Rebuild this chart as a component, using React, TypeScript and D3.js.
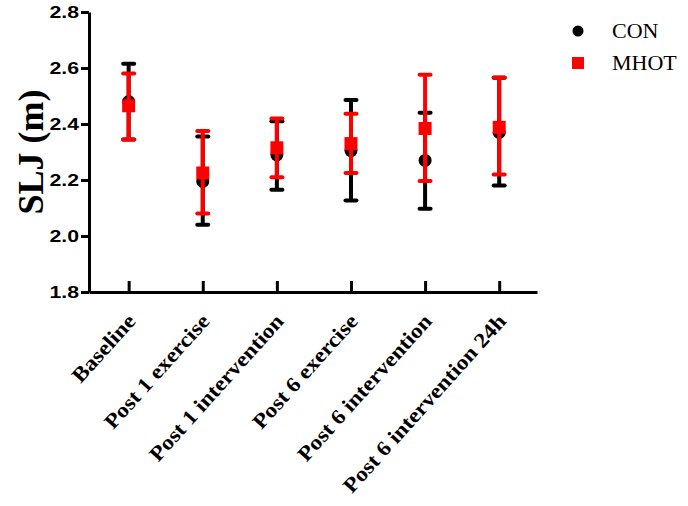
import React, { useEffect, useRef } from 'react';
import * as d3 from 'd3';

const categories = [
  'Baseline',
  'Post 1 exercise',
  'Post 1 intervention',
  'Post 6 exercise',
  'Post 6 intervention',
  'Post 6 intervention 24h',
];

// mean, lower, upper (SLJ in m)
const conMean = [2.48, 2.195, 2.29, 2.305, 2.27, 2.37];
const conLow = [2.345, 2.04, 2.165, 2.127, 2.097, 2.18];
const conHigh = [2.615, 2.355, 2.41, 2.486, 2.44, 2.565];

const mhotMean = [2.465, 2.225, 2.315, 2.33, 2.384, 2.388];
const mhotLow = [2.345, 2.08, 2.21, 2.225, 2.196, 2.22];
const mhotHigh = [2.58, 2.375, 2.42, 2.437, 2.576, 2.566];

const yTicks = [1.8, 2.0, 2.2, 2.4, 2.6, 2.8];

const App = () => {
  const svgRef = useRef<SVGSVGElement | null>(null);

  useEffect(() => {
    const svg = d3.select(svgRef.current);
    svg.selectAll('*').remove();

    const width = 688;
    const height = 506;

    const x = d3.scaleLinear().domain([-0.535, 5.51]).range([89, 537]);
    const y = d3.scaleLinear().domain([1.8, 2.8]).range([292, 12]);

    svg.attr('width', width).attr('height', height);

    // y axis
    const yAxis = d3.axisLeft(y)
      .tickValues(yTicks)
      .tickFormat(d3.format('.1f'))
      .tickSizeInner(8)
      .tickSizeOuter(0)
      .tickPadding(2);

    const yg = svg.append('g')
      .attr('transform', `translate(${x.range()[0]},0)`)
      .call(yAxis);
    yg.select('.domain').attr('stroke', '#000').attr('stroke-width', 3);
    yg.selectAll('.tick line').attr('stroke', '#000').attr('stroke-width', 3);
    yg.selectAll('.tick text')
      .attr('font-family', '"Liberation Sans", Arial, sans-serif')
      .attr('font-weight', 'bold')
      .attr('font-size', 17)
      .attr('fill', '#000')
      .attr('x', -10 / 1.25)
      .attr('transform', 'scale(1.25,1)');

    // x axis
    const xAxis = d3.axisBottom(x)
      .tickValues(d3.range(categories.length))
      .tickFormat(() => '')
      .tickSizeInner(-11)
      .tickSizeOuter(0);

    const xg = svg.append('g')
      .attr('transform', `translate(0,${y(1.8)})`)
      .call(xAxis);
    xg.select('.domain').attr('stroke', '#000').attr('stroke-width', 3);
    xg.selectAll('.tick line').attr('stroke', '#000').attr('stroke-width', 3);

    // x labels
    svg.append('g')
      .selectAll('text')
      .data(categories)
      .join('text')
      .attr('transform', (d, i) => `translate(${x(i) + 8},${y(1.8) + 30}) rotate(-48) scale(1.12,1)`)
      .attr('text-anchor', 'end')
      .attr('font-family', '"Liberation Serif", "Times New Roman", serif')
      .attr('font-weight', 'bold')
      .attr('font-size', 21)
      .attr('fill', '#000')
      .text(d => d);

    // y title
    svg.append('text')
      .attr('transform', `translate(43,${(y(1.8) + y(2.8)) / 2}) rotate(-90)`)
      .attr('text-anchor', 'middle')
      .attr('font-family', '"Liberation Serif", "Times New Roman", serif')
      .attr('font-weight', 'bold')
      .attr('font-size', 36)
      .attr('fill', '#000')
      .text('SLJ (m)');

    const capHalf = 5.5;

    const drawSeries = (mean, low, high, color, shape) => {
      const g = svg.append('g');
      mean.forEach((m, i) => {
        const cx = x(i);
        g.append('line')
          .attr('x1', cx).attr('x2', cx)
          .attr('y1', y(low[i])).attr('y2', y(high[i]))
          .attr('stroke', color).attr('stroke-width', 4);
        [low[i], high[i]].forEach(v => {
          g.append('line')
            .attr('x1', cx - capHalf).attr('x2', cx + capHalf)
            .attr('y1', y(v)).attr('y2', y(v))
            .attr('stroke', color).attr('stroke-width', 4)
            .attr('stroke-linecap', 'round');
        });
        if (shape === 'circle') {
          g.append('circle').attr('cx', cx).attr('cy', y(m)).attr('r', 6.5).attr('fill', color);
        } else {
          g.append('rect').attr('x', cx - 6.5).attr('y', y(m) - 6.5)
            .attr('width', 13).attr('height', 13).attr('fill', color);
        }
      });
    };

    drawSeries(conMean, conLow, conHigh, '#000000', 'circle');
    drawSeries(mhotMean, mhotLow, mhotHigh, '#ff0000', 'square');

    // legend
    const legend = svg.append('g');
    legend.append('circle').attr('cx', 578).attr('cy', 31).attr('r', 5.5).attr('fill', '#000');
    legend.append('rect').attr('x', 572).attr('y', 57).attr('width', 12).attr('height', 12).attr('fill', '#ff0000');
    legend.selectAll('text')
      .data(['CON', 'MHOT'])
      .join('text')
      .attr('x', 612)
      .attr('y', (d, i) => 38 + i * 32)
      .attr('font-family', '"Liberation Serif", "Times New Roman", serif')
      .attr('font-size', 22)
      .attr('fill', '#000')
      .text(d => d);
  }, []);

  return (
    <svg ref={svgRef} style={{ position: 'absolute', left: 0, top: 0 }}></svg>
  );
};

export default App;
